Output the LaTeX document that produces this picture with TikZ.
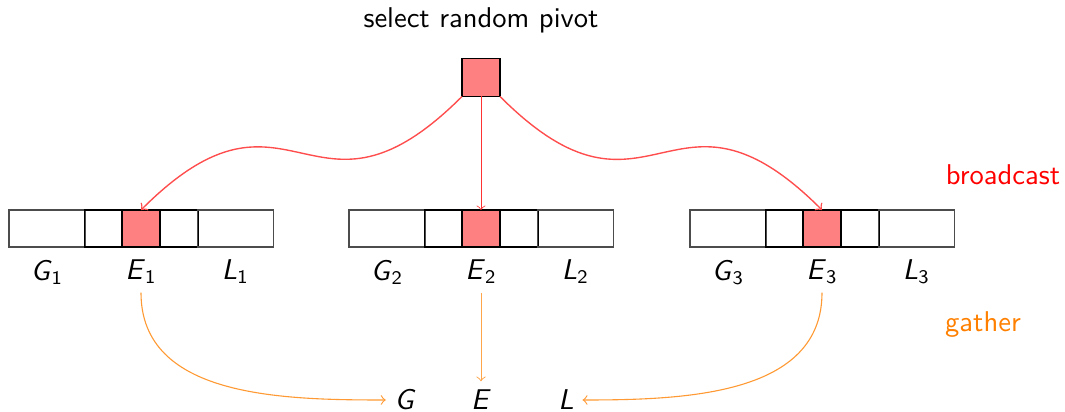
\documentclass[tikz,border=0pt]{standalone}
\usepackage{amsmath}
\begin{document}
\def\ux{0.3636pt}
\begin{tikzpicture}[x=0.3636pt,y=-0.3636pt,font=\sffamily\fontsize{10.4}{12.5}\selectfont,
  cell/.style={draw=black, inner sep=0pt, outer sep=0pt, minimum height=37*\ux},
  side/.style={cell, draw=black!70, minimum width=76*\ux},
  mid/.style={cell, minimum width=38*\ux},
  hot/.style={mid, fill=red!50},
  bcast/.style={draw=red!70, line width=0.5pt, ->},
  gath/.style={draw=orange!80, ->},
  lab/.style={inner sep=3pt}]
\useasboundingbox (0,0) rectangle (1065,412);
\node (title) at (481,20) {select random pivot};
\node[cell, fill=red!50, minimum width=38*\ux, minimum height=38*\ux] (pivot) at (481,77.5) {};
\foreach \k/\o in {1/0,2/340,3/681}{
  \node[side] (G\k) at ({47+\o},228.5) {};
  \node[mid] (A\k) at ({103.5+\o},228.5) {};
  \node[hot] (P\k) at ({141+\o},228.5) {};
  \node[mid] (B\k) at ({179+\o},228.5) {};
  \node[side] (L\k) at ({235.5+\o},228.5) {};
  \node[lab] (lG\k) at ({47+\o},272) {\textit{G}$_{\mathsf{\k}}$};
  \node[lab] (lE\k) at ({141+\o},272) {\textit{E}$_{\mathsf{\k}}$};
  \node[lab] (lL\k) at ({235.5+\o},272) {\textit{L}$_{\mathsf{\k}}$};
}
\node[text=red] (bc) at (1003,175) {broadcast};
\node[text=orange] (ga) at (983,325) {gather};
\node[lab] (G) at (405,400) {\textit{G}};
\node[lab] (E) at (481,400) {\textit{E}};
\node[lab] (L) at (566,400) {\textit{L}};
\draw[bcast] (pivot.south west) to[out=-135,in=45,looseness=1.6] (P1.north);
\draw[bcast, draw=red!80, line width=0.3pt] (pivot.south) -- (P2.north);
\draw[bcast] (pivot.south east) to[out=-45,in=135,looseness=1.6] (P3.north);
\draw[gath] (lE1.south) to[out=-90,in=180] (G.west);
\draw[gath, draw=orange!70, line width=0.35pt] (lE2.south) -- (E.north);
\draw[gath] (lE3.south) to[out=-90,in=0] (L.east);
\end{tikzpicture}
\end{document}
